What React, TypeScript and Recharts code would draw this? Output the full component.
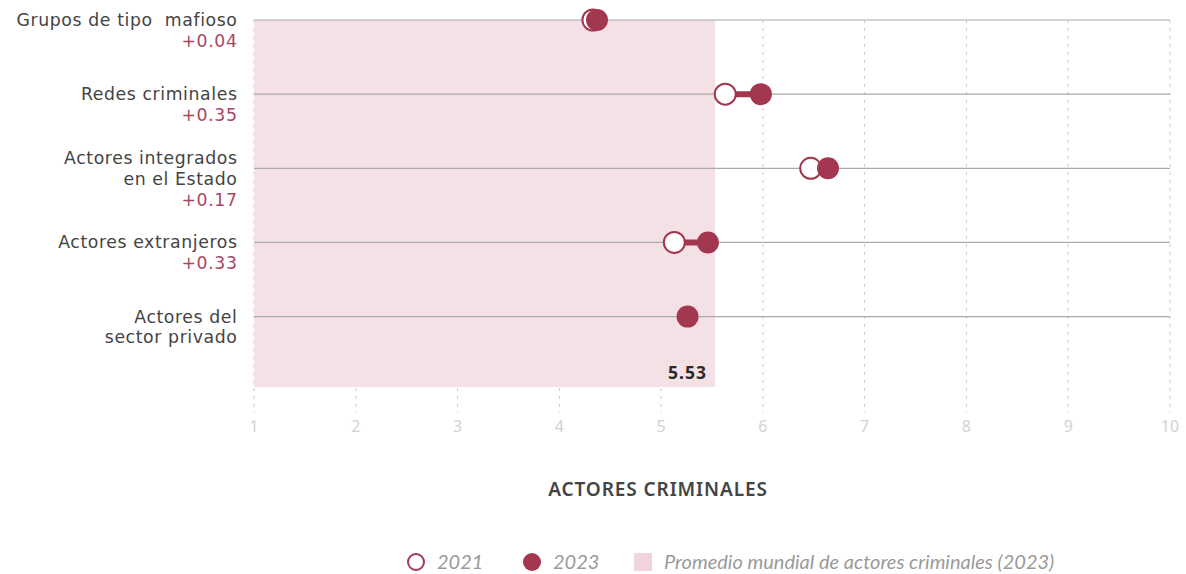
import { ScatterChart, Scatter, XAxis, YAxis, CartesianGrid, ReferenceArea, ReferenceLine } from "recharts";

const categories = [
  ["Grupos de tipo\u00a0 mafioso"],
  ["Redes criminales"],
  ["Actores integrados", "en el Estado"],
  ["Actores extranjeros"],
  ["Actores del", "sector privado"],
];
const values2021: (number | null)[] = [4.33, 5.63, 6.47, 5.13, null];
const values2023: (number | null)[] = [4.37, 5.98, 6.64, 5.46, 5.26];
const globalAverage = 5.53;
const xTicks = [1, 2, 3, 4, 5, 6, 7, 8, 9, 10];
const seriesNames = ["2021", "2023"];
const averageLabel = "Promedio mundial de actores criminales (2023)";
const axisTitle = "ACTORES CRIMINALES";

const CRIMSON = "#a2374f";
const FONT = "'Noto Sans', sans-serif";
const LABEL_FONT = "'DejaVu Sans', sans-serif";

const points2021 = values2021.flatMap((v, i) => (v == null ? [] : [{ x: v, y: i }]));
const points2023 = values2023.flatMap((v, i) => (v == null ? [] : [{ x: v, y: i }]));

const deltas = categories.map((_, i) => {
  const a = values2021[i];
  const b = values2023[i];
  if (a == null || b == null) return null;
  const d = b - a;
  return (d >= 0 ? "+" : "") + d.toFixed(2);
});

function CategoryTick(props: any) {
  const { x, y, payload } = props;
  const i = payload.value as number;
  const lines = categories[i];
  if (!lines) return null;
  const delta = deltas[i];
  const all = delta ? [...lines, delta] : lines;
  const shift = all.length >= 3 ? -10 : 0;
  return (
    <g>
      {all.map((t, k) => (
        <text
          key={k}
          x={x - 8.5}
          y={y + shift + k * 20.7}
          textAnchor="end"
          dominantBaseline="central"
          fontFamily={LABEL_FONT}
          fontSize={17.3}
          letterSpacing={0.6}
          fill={delta && k === all.length - 1 ? "#a8475f" : "#444"}
        >
          {t}
        </text>
      ))}
    </g>
  );
}

function OpenDot(p: any) {
  return <circle cx={p.cx} cy={p.cy} r={10.5} fill="#fff" stroke={CRIMSON} strokeWidth={2} />;
}
function FilledDot(p: any) {
  return <circle cx={p.cx} cy={p.cy} r={11} fill={CRIMSON} />;
}

export default function App() {
  return (
    <div style={{ position: "absolute", left: 0, top: 0, width: 1186, height: 574, background: "#fff" }}>
      <ScatterChart width={1186} height={450} margin={{ top: 20, right: 16, bottom: 7, left: 0 }}>
        <ReferenceArea x1={1} x2={globalAverage} y1={0} y2={4.95} fill="#f4e1e5" fillOpacity={1} stroke="none"
          label={{ value: globalAverage.toFixed(2), position: "insideBottomRight", offset: 8, fill: "#2b2b2b", fontSize: 17.5, fontWeight: 700, fontFamily: FONT, letterSpacing: 1 }} />
        <CartesianGrid horizontal={false} stroke="#c8c8c8" strokeDasharray="3 5" />
        {categories.map((_, i) => (
          <ReferenceLine key={"r" + i} y={i} stroke="#aaa" strokeWidth={1.2} />
        ))}
        {categories.map((_, i) =>
          values2021[i] != null && values2023[i] != null ? (
            <ReferenceLine key={"s" + i} segment={[{ x: values2021[i] as number, y: i }, { x: values2023[i] as number, y: i }]} stroke={CRIMSON} strokeWidth={6} />
          ) : null
        )}
        <XAxis type="number" dataKey="x" domain={[1, 10]} ticks={xTicks} axisLine={false} tickLine={false} height={30}
          tick={{ fill: "#d2d2d2", fontSize: 16, fontFamily: FONT }} interval={0} />
        <YAxis type="number" dataKey="y" domain={[0, 5.3]} reversed ticks={[0, 1, 2, 3, 4]} axisLine={false} tickLine={false} width={254}
          tick={<CategoryTick />} interval={0} />
        <Scatter name={seriesNames[0]} data={points2021} shape={<OpenDot />} isAnimationActive={false} />
        <Scatter name={seriesNames[1]} data={points2023} shape={<FilledDot />} isAnimationActive={false} />
      </ScatterChart>
      <div style={{ position: "absolute", left: 458, width: 400, top: 476, textAlign: "center", fontFamily: FONT, fontSize: 19, letterSpacing: 0.9, fontWeight: 600, color: "#444" }}>
        {axisTitle}
      </div>
      <div style={{ position: "absolute", left: 0, top: 549, width: 1186, height: 25, fontFamily: "Lato, sans-serif", fontStyle: "italic", fontSize: 20, color: "#9a9a9a" }}>
        <span style={{ position: "absolute", left: 407, top: 4, width: 14, height: 14, borderRadius: "50%", border: `2px solid ${CRIMSON}`, boxSizing: "content-box" }} />
        <span style={{ position: "absolute", left: 437, top: 0 }}>{seriesNames[0]}</span>
        <span style={{ position: "absolute", left: 523, top: 4, width: 18, height: 18, borderRadius: "50%", background: CRIMSON }} />
        <span style={{ position: "absolute", left: 553, top: 0 }}>{seriesNames[1]}</span>
        <span style={{ position: "absolute", left: 634, top: 4, width: 18, height: 18, background: "#f1d5dc" }} />
        <span style={{ position: "absolute", left: 664, top: 0 }}>{averageLabel}</span>
      </div>
    </div>
  );
}
